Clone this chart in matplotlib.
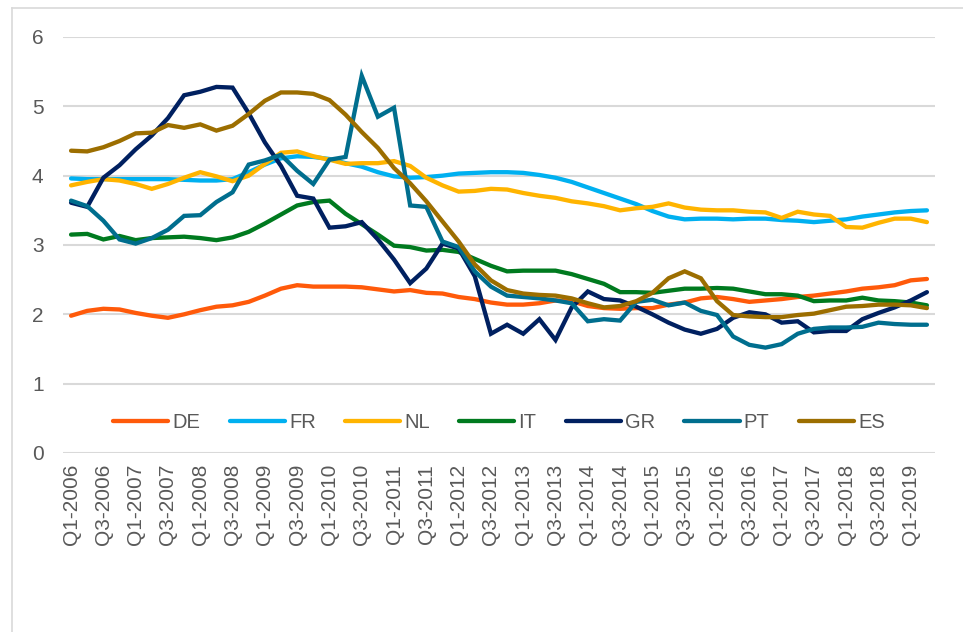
import matplotlib
matplotlib.use("Agg")
import matplotlib.pyplot as plt
from matplotlib.lines import Line2D

plt.rcParams['font.family'] = ['Liberation Sans', 'DejaVu Sans']

years = list(range(2006, 2020))
quarters = [f"Q{q}-{y}" for y in years for q in (1, 2, 3, 4)][:54]

DE = [1.98, 2.05, 2.08, 2.07, 2.02, 1.98, 1.95, 2.00, 2.06, 2.11, 2.13, 2.18, 2.27, 2.37, 2.42, 2.40,
      2.40, 2.40, 2.39, 2.36, 2.33, 2.35, 2.31, 2.30, 2.25, 2.22, 2.17, 2.14, 2.14, 2.16, 2.20, 2.19,
      2.12, 2.09, 2.08, 2.09, 2.09, 2.14, 2.17, 2.23, 2.25, 2.22, 2.18, 2.20, 2.22, 2.25, 2.27, 2.30,
      2.33, 2.37, 2.39, 2.42, 2.49, 2.51]
FR = [3.96, 3.95, 3.95, 3.95, 3.95, 3.95, 3.95, 3.94, 3.93, 3.93, 3.95, 4.05, 4.16, 4.25, 4.28, 4.27,
      4.24, 4.18, 4.13, 4.05, 3.99, 3.97, 3.98, 4.00, 4.03, 4.04, 4.05, 4.05, 4.04, 4.01, 3.97, 3.91,
      3.83, 3.75, 3.67, 3.59, 3.49, 3.41, 3.37, 3.38, 3.38, 3.37, 3.38, 3.38, 3.36, 3.35, 3.33, 3.35,
      3.37, 3.41, 3.44, 3.47, 3.49, 3.50]
NL = [3.86, 3.91, 3.95, 3.93, 3.88, 3.81, 3.88, 3.97, 4.05, 3.99, 3.92, 4.00, 4.17, 4.33, 4.35, 4.28,
      4.23, 4.17, 4.18, 4.18, 4.21, 4.14, 3.97, 3.86, 3.77, 3.78, 3.81, 3.80, 3.75, 3.71, 3.68, 3.63,
      3.60, 3.56, 3.50, 3.53, 3.55, 3.60, 3.54, 3.51, 3.50, 3.50, 3.48, 3.47, 3.39, 3.48, 3.44, 3.42,
      3.26, 3.25, 3.32, 3.38, 3.38, 3.33]
IT = [3.15, 3.16, 3.08, 3.13, 3.07, 3.10, 3.11, 3.12, 3.10, 3.07, 3.11, 3.19, 3.31, 3.44, 3.57, 3.62,
      3.64, 3.45, 3.30, 3.15, 2.99, 2.97, 2.92, 2.93, 2.90, 2.80, 2.70, 2.62, 2.63, 2.63, 2.63, 2.58,
      2.51, 2.44, 2.32, 2.32, 2.31, 2.34, 2.37, 2.37, 2.38, 2.37, 2.33, 2.29, 2.29, 2.27, 2.19, 2.20,
      2.20, 2.24, 2.20, 2.19, 2.17, 2.13]
GR = [3.61, 3.55, 3.97, 4.15, 4.38, 4.58, 4.83, 5.16, 5.21, 5.28, 5.27, 4.90, 4.48, 4.14, 3.71, 3.67,
      3.25, 3.27, 3.33, 3.08, 2.79, 2.45, 2.66, 3.02, 2.95, 2.55, 1.72, 1.85, 1.72, 1.93, 1.63, 2.10,
      2.33, 2.22, 2.20, 2.11, 2.00, 1.88, 1.78, 1.72, 1.79, 1.95, 2.03, 2.00, 1.88, 1.90, 1.74, 1.76,
      1.76, 1.93, 2.02, 2.10, 2.20, 2.32]
PT = [3.64, 3.56, 3.35, 3.08, 3.02, 3.10, 3.22, 3.42, 3.43, 3.62, 3.76, 4.16, 4.22, 4.30, 4.07, 3.88,
      4.23, 4.27, 5.44, 4.85, 4.98, 3.57, 3.55, 3.05, 2.97, 2.62, 2.40, 2.27, 2.25, 2.23, 2.20, 2.16,
      1.90, 1.93, 1.91, 2.18, 2.21, 2.13, 2.17, 2.05, 1.99, 1.68, 1.56, 1.52, 1.57, 1.72, 1.79, 1.81,
      1.81, 1.82, 1.88, 1.86, 1.85, 1.85]
ES = [4.36, 4.35, 4.41, 4.50, 4.61, 4.62, 4.73, 4.69, 4.74, 4.65, 4.72, 4.89, 5.08, 5.20, 5.20, 5.18,
      5.09, 4.88, 4.63, 4.40, 4.11, 3.89, 3.63, 3.34, 3.05, 2.72, 2.49, 2.35, 2.30, 2.28, 2.27, 2.23,
      2.16, 2.10, 2.12, 2.19, 2.31, 2.52, 2.62, 2.52, 2.19, 1.99, 1.97, 1.96, 1.96, 1.99, 2.01, 2.06,
      2.11, 2.12, 2.14, 2.14, 2.13, 2.09]

series_names = ["DE", "FR", "NL", "IT", "GR", "PT", "ES"]
series_values = [DE, FR, NL, IT, GR, PT, ES]
colors = ["#FF5A0A", "#00B0F0", "#FFB400", "#007A1F", "#002060", "#006E8E", "#9C6E00"]
y_ticks = [0, 1, 2, 3, 4, 5, 6]

W, H = 963, 632
fig = plt.figure(figsize=(W / 100, H / 100), dpi=100)
ax = fig.add_axes([63 / W, (H - 453) / H, (935 - 63) / W, (453 - 37) / H])

x = list(range(len(quarters)))
for name, vals, c in zip(series_names, series_values, colors):
    ax.plot(x, vals, color=c, lw=3.1, label=name, solid_joinstyle='miter', solid_capstyle='round')

ax.set_xlim(-0.5, len(quarters) - 0.5)
ax.set_ylim(0, 6)
ax.set_yticks(y_ticks)
ax.set_yticklabels([str(v) for v in y_ticks])
ax.set_xticks(x[::2])
ax.set_xticklabels(quarters[::2], rotation=90)
ax.grid(axis='y', color='#D9D9D9', lw=1.5)
ax.set_axisbelow(True)
for s in ax.spines.values():
    s.set_visible(False)
ax.tick_params(axis='both', length=0, labelsize=15, labelcolor='#595959')
ax.tick_params(axis='y', pad=14)
ax.tick_params(axis='x', pad=8)

fig.legend(loc='center', bbox_to_anchor=(499 / W, (H - 423) / H), ncol=7, frameon=False,
           fontsize=14.5, handlelength=2.75, handletextpad=0.2, columnspacing=1.45,
           labelcolor='#595959')

# chart frame
fig.add_artist(Line2D([12 / W, 1.0], [(H - 8) / H, (H - 8) / H], color='#D9D9D9', lw=1.2,
                      transform=fig.transFigure))
fig.add_artist(Line2D([12 / W, 12 / W], [0, (H - 8) / H], color='#D9D9D9', lw=1.2,
                      transform=fig.transFigure))

fig.savefig("out.png", dpi=100)
